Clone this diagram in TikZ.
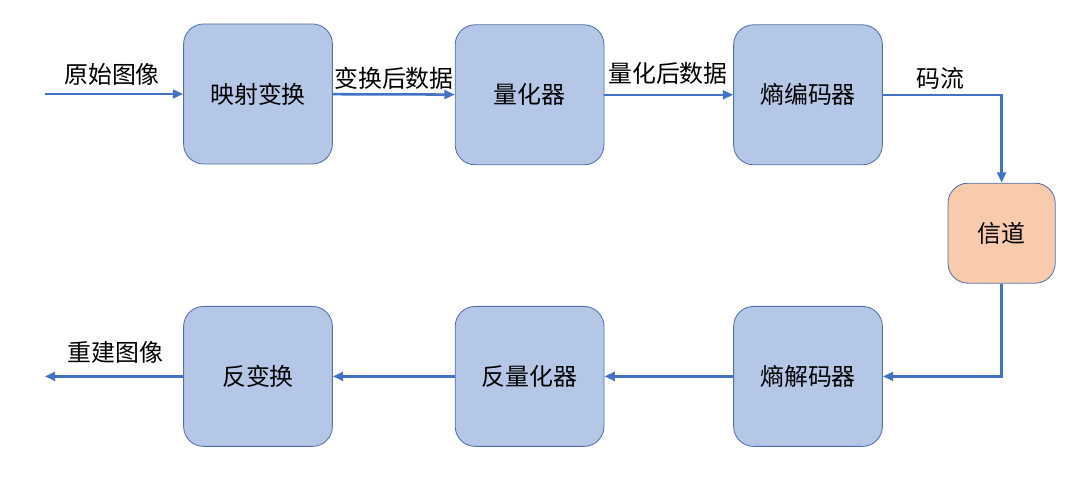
\documentclass[tikz,border=0pt]{standalone}
\usepackage{fontspec}
\newfontfamily\cjk{Noto Sans CJK SC}
\usetikzlibrary{arrows.meta,positioning}
\definecolor{BoxBlue}{RGB}{180,199,231}
\definecolor{BoxEdge}{RGB}{82,112,170}
\definecolor{ChanOrange}{RGB}{248,203,173}
\definecolor{LineBlue}{RGB}{68,114,196}

\begin{document}
\begin{tikzpicture}[
  stage/.style={draw=BoxEdge,fill=BoxBlue,rounded corners=0.5cm,line width=0.6pt,
                minimum width=3.72cm,minimum height=3.5cm,align=center,
                font=\cjk\fontsize{17}{20}\selectfont},
  chan/.style={stage,fill=ChanOrange,minimum width=2.68cm,minimum height=2.5cm},
  lbl/.style={font=\cjk\fontsize{17}{20}\selectfont,inner sep=0pt},
  flow/.style={LineBlue,line width=1.8pt,-{Triangle[length=2.6mm,width=2.2mm]}},
]
\useasboundingbox (0,0) rectangle (27,12.05);
% encoder row
\node[stage] (map)  at (6.45,9.7)   {映射变换};
\node[stage] (quan) at (13.24,9.68) {量化器};
\node[stage] (enc)  at (20.2,9.68)  {熵编码器};
% channel
\node[chan]  (ch)   at (25.04,6.22) {信道};
% decoder row
\node[stage] (dec)  at (20.2,2.64)  {熵解码器};
\node[stage] (dq)   at (13.24,2.64) {反量化器};
\node[stage] (inv)  at (6.45,2.64)  {反变换};
\coordinate (src) at (1.12,9.7);
\coordinate (dst) at (1.12,2.64);
\draw[flow] (src) -- (map);
\draw[flow] (map) -- (quan);
\draw[flow] (quan) -- (enc);
\draw[flow] (enc.east) -| (ch.north);
\draw[flow] (ch.south) |- (dec.east);
\draw[flow] (dec) -- (dq);
\draw[flow] (dq) -- (inv);
\draw[flow] (inv) -- (dst);
% labels
\node[lbl] (lin)  at (2.8,10.18)  {原始图像};
\node[lbl] (lmap) at (9.85,10.1)  {变换后数据};
\node[lbl] (lq)   at (16.7,10.22) {量化后数据};
\node[lbl] (lbit) at (23.5,10.1)  {码流};
\node[lbl] (lout) at (2.88,3.25)  {重建图像};
\end{tikzpicture}
\end{document}
